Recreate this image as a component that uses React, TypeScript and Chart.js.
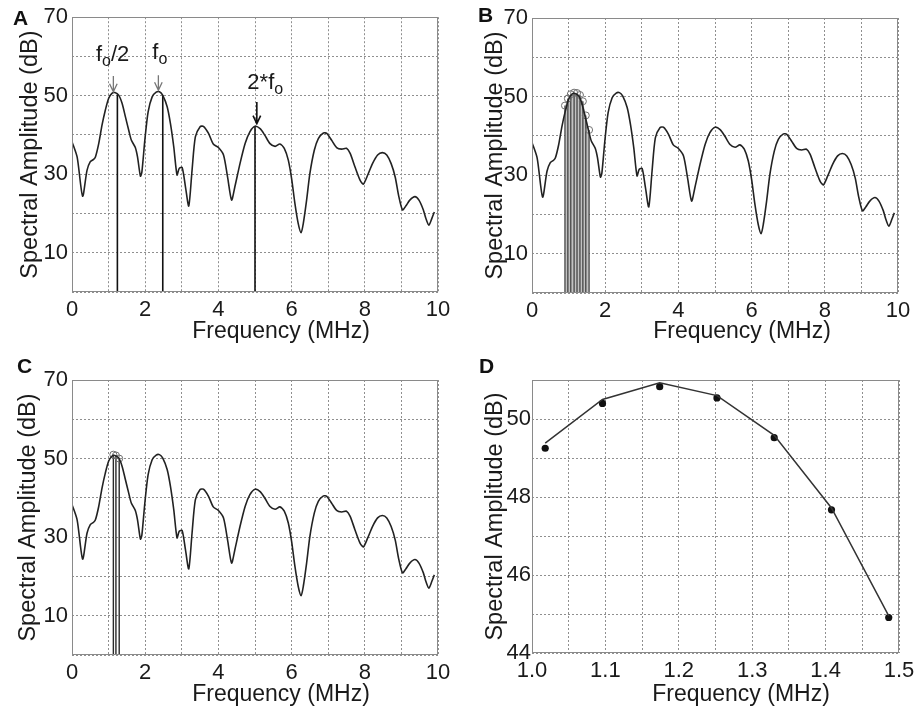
import React, { useEffect, useRef } from "react";
import { Chart, registerables } from "chart.js";
Chart.register(...registerables);

// ---------- data ----------
const specFreq = [0.0, 0.14, 0.29, 0.41, 0.5, 0.59, 0.64, 0.73, 0.82, 0.91, 1.0, 1.09, 1.17, 1.28, 1.37, 1.46, 1.55, 1.62, 1.73, 1.79, 1.87, 1.91, 1.99, 2.08, 2.19, 2.3, 2.39, 2.48, 2.6, 2.69, 2.78, 2.87, 2.93, 3.01, 3.1, 3.19, 3.28, 3.37, 3.5, 3.59, 3.73, 3.86, 4.0, 4.14, 4.25, 4.36, 4.45, 4.59, 4.73, 4.86, 5.0, 5.14, 5.27, 5.41, 5.55, 5.68, 5.8, 5.91, 6.0, 6.09, 6.18, 6.26, 6.32, 6.41, 6.5, 6.62, 6.73, 6.87, 6.96, 7.09, 7.23, 7.37, 7.5, 7.6, 7.73, 7.87, 7.96, 8.08, 8.21, 8.35, 8.48, 8.6, 8.72, 8.83, 8.93, 9.03, 9.12, 9.23, 9.37, 9.48, 9.6, 9.67, 9.75, 9.83, 9.9];
const specAmp = [38.3, 34.4, 24.4, 31.0, 33.2, 33.8, 34.4, 37.8, 42.5, 46.3, 49.3, 50.6, 50.8, 50.1, 48.0, 44.6, 41.2, 38.7, 36.8, 34.4, 29.5, 30.6, 38.7, 45.9, 49.7, 50.9, 51.0, 50.1, 47.2, 42.9, 37.0, 29.8, 31.5, 31.7, 26.8, 21.9, 31.0, 39.5, 42.1, 42.2, 40.4, 37.7, 36.8, 34.9, 29.3, 23.4, 26.8, 32.7, 37.8, 40.8, 42.2, 41.6, 39.9, 37.8, 37.1, 37.7, 36.6, 33.6, 28.9, 22.6, 17.5, 15.1, 17.5, 23.4, 30.2, 36.1, 39.1, 40.5, 40.4, 38.7, 36.8, 36.4, 36.6, 35.3, 31.9, 28.5, 27.5, 29.8, 32.7, 34.9, 35.5, 34.9, 32.7, 29.3, 24.3, 20.9, 21.9, 23.4, 24.3, 23.4, 20.9, 18.7, 17.0, 18.7, 20.4];

// Panel A stems and arrows
const aStemFreq = [1.24, 2.48, 5.0];
const aStemAmp = [50.3, 50.1, 42.2];
const arrowFreq = [1.13, 2.36, 5.05];
const arrowFrom = [55.0, 55.2, 48.4];
const arrowTo = [51.0, 51.4, 42.9];
const arrowColors = ["#777777", "#777777", "#111111"];
const labelPre = ["f", "f", "2*f"];
const labelSub = ["o", "o", "o"];
const labelPost = ["/2", "", ""];
const labelFreq = [1.11, 2.4, 5.28];
const labelAmp = [61.0, 61.5, 53.8];

// Panel B stems
const bStemFreq = [0.9, 0.98, 1.06, 1.15, 1.23, 1.31, 1.39, 1.47, 1.56];
const bStemAmp = [47.7, 49.5, 50.6, 51.0, 50.9, 50.4, 48.8, 45.2, 41.5];

// Panel C stems
const cStemFreq = [1.13, 1.2, 1.29];
const cStemAmp = [51.0, 50.8, 50.0];

// Panel D
const dFreq = [1.018, 1.096, 1.174, 1.252, 1.33, 1.408, 1.486];
const dAmp = [49.25, 50.4, 50.83, 50.54, 49.52, 47.67, 44.91];
const dLineAmp = [49.38, 50.5, 50.93, 50.6, 49.58, 47.72, 44.95];

const xTitle = "Frequency (MHz)";
const yTitle = "Spectral Amplitude (dB)";

// ---------- helpers ----------
const FONT = "'Liberation Sans', Arial, Helvetica, sans-serif";
const TXT = "#1a1a1a";
const GRID = "#8f8f8f";
const TICK_SIZE = 22;
const TITLE_SIZE = 23.5;

const pts = (xs: number[], ys: number[]) => xs.map((x, i) => ({ x, y: ys[i] }));

function stemSets(xs: number[], ys: number[], base: number, color: string, width: number) {
  return xs.map((x, i) => ({
    data: [{ x, y: base }, { x, y: ys[i] }],
    showLine: true,
    borderColor: color,
    borderWidth: width,
    pointRadius: 0,
    tension: 0,
    fill: false,
  }));
}

const curveSet = () => ({
  data: pts(specFreq, specAmp),
  showLine: true,
  borderColor: "#222222",
  borderWidth: 1.6,
  pointRadius: 0,
  tension: 0.25,
  fill: false,
});

const boxPlugin = {
  id: "box",
  afterDraw(chart: any) {
    const { ctx, chartArea: a } = chart;
    ctx.save();
    ctx.setLineDash([]);
    ctx.strokeStyle = "#8a8a8a";
    ctx.lineWidth = 1;
    ctx.strokeRect(Math.round(a.left) + 0.5, Math.round(a.top) + 0.5, Math.round(a.right - a.left) - 1, Math.round(a.bottom - a.top) - 1);
    ctx.restore();
  },
};

const arrowPlugin = {
  id: "arrows",
  afterDatasetsDraw(chart: any) {
    const { ctx, scales } = chart;
    const xs = scales.x;
    const ys = scales.y;
    ctx.save();
    arrowFreq.forEach((f, i) => {
      const px = xs.getPixelForValue(f);
      const y1 = ys.getPixelForValue(arrowFrom[i]);
      const y2 = ys.getPixelForValue(arrowTo[i]);
      ctx.strokeStyle = arrowColors[i];
      ctx.lineWidth = i === 2 ? 1.6 : 1.3;
      ctx.beginPath();
      ctx.moveTo(px, y1);
      ctx.lineTo(px, y2);
      ctx.moveTo(px - 3.8, y2 - 8);
      ctx.lineTo(px, y2);
      ctx.lineTo(px + 3.8, y2 - 8);
      ctx.stroke();

      const lx = xs.getPixelForValue(labelFreq[i]);
      const ly = ys.getPixelForValue(labelAmp[i]);
      const main = `22px ${FONT}`;
      const sub = `16px ${FONT}`;
      ctx.font = main;
      const w1 = ctx.measureText(labelPre[i]).width;
      const w3 = ctx.measureText(labelPost[i]).width;
      ctx.font = sub;
      const w2 = ctx.measureText(labelSub[i]).width;
      let sx = lx - (w1 + w2 + w3) / 2;
      const base = ly + 8;
      ctx.fillStyle = TXT;
      ctx.textBaseline = "alphabetic";
      ctx.textAlign = "left";
      ctx.font = main;
      ctx.fillText(labelPre[i], sx, base);
      sx += w1;
      ctx.font = sub;
      ctx.fillText(labelSub[i], sx, base + 5);
      sx += w2;
      ctx.font = main;
      ctx.fillText(labelPost[i], sx, base);
    });
    ctx.restore();
  },
};

type Cfg = {
  padTop: number;
  padRight: number;
  yW: number;
  xH: number;
  xMin: number;
  xMax: number;
  xStep: number;
  xLabel: (v: number) => string;
  yMin: number;
  yMax: number;
  yStep: number;
  yLabel: (v: number) => string;
  yTitlePad: number;
  yTickPad: number;
};

function makeOptions(c: Cfg) {
  return {
    responsive: false,
    maintainAspectRatio: false,
    animation: false,
    devicePixelRatio: 1,
    events: [],
    layout: { padding: { top: c.padTop, right: c.padRight, left: 0, bottom: 0 } },
    plugins: { legend: { display: false }, tooltip: { enabled: false } },
    scales: {
      x: {
        type: "linear",
        min: c.xMin,
        max: c.xMax,
        afterFit: (s: any) => {
          s.height = c.xH;
        },
        ticks: {
          stepSize: c.xStep,
          autoSkip: false,
          maxRotation: 0,
          padding: 5,
          color: TXT,
          font: { family: FONT, size: TICK_SIZE },
          callback: (v: any) => c.xLabel(Number(v)),
        },
        grid: { color: GRID, lineWidth: 1, drawTicks: false },
        border: { display: false, dash: [2, 2] },
        title: { display: false },
      },
      y: {
        type: "linear",
        min: c.yMin,
        max: c.yMax,
        afterFit: (s: any) => {
          s.width = c.yW;
        },
        ticks: {
          stepSize: c.yStep,
          autoSkip: false,
          padding: c.yTickPad,
          color: TXT,
          font: { family: FONT, size: TICK_SIZE },
          callback: (v: any) => c.yLabel(Number(v)),
        },
        grid: { color: GRID, lineWidth: 1, drawTicks: false },
        border: { display: false, dash: [2, 2] },
        title: {
          display: true,
          text: yTitle,
          color: TXT,
          font: { family: FONT, size: TITLE_SIZE },
          padding: { top: c.yTitlePad, bottom: 0 },
        },
      },
    },
  };
}

const specX = (v: number) => (Math.round(v) % 2 === 0 ? String(Math.round(v)) : "");
const specY = (v: number) => (Math.round(v) % 20 === 10 ? String(Math.round(v)) : "");

function specCfg(padTop: number, xH: number, yTitlePad: number): Cfg {
  return {
    padTop,
    padRight: 22,
    yW: 72,
    xH,
    xMin: 0,
    xMax: 10,
    xStep: 1,
    xLabel: specX,
    yMin: 0,
    yMax: 70,
    yStep: 10,
    yLabel: specY,
    yTitlePad,
    yTickPad: 4,
  };
}

function buildA() {
  return {
    type: "scatter",
    data: { datasets: [curveSet(), ...stemSets(aStemFreq, aStemAmp, 0, "#111111", 1.6)] },
    options: makeOptions(specCfg(17, 53, 16.4)),
    plugins: [boxPlugin, arrowPlugin],
  };
}

function buildB() {
  return {
    type: "scatter",
    data: {
      datasets: [
        curveSet(),
        {
          data: pts(bStemFreq, bStemAmp),
          showLine: false,
          pointRadius: 3.5,
          pointBorderWidth: 1,
          pointBorderColor: "#6f6f6f",
          pointBackgroundColor: "rgba(0,0,0,0)",
        },
        ...stemSets(bStemFreq, bStemAmp, 0, "#3a3a3a", 1.2),
        {
          data: pts(bStemFreq, bStemAmp),
          showLine: true,
          borderWidth: 0,
          borderColor: "rgba(0,0,0,0)",
          backgroundColor: "#c2c2c2",
          fill: "origin",
          pointRadius: 0,
          tension: 0,
        },
      ],
    },
    options: makeOptions(specCfg(18, 52, 21.9)),
    plugins: [boxPlugin],
  };
}

function buildC() {
  return {
    type: "scatter",
    data: {
      datasets: [
        curveSet(),
        {
          data: pts(cStemFreq, cStemAmp),
          showLine: false,
          pointRadius: 3.5,
          pointBorderWidth: 1,
          pointBorderColor: "#6f6f6f",
          pointBackgroundColor: "rgba(0,0,0,0)",
        },
        ...stemSets(cStemFreq, cStemAmp, 0, "#2a2a2a", 1.4),
      ],
    },
    options: makeOptions(specCfg(35, 54, 14.9)),
    plugins: [boxPlugin],
  };
}

function buildD() {
  const cfg: Cfg = {
    padTop: 35,
    padRight: 21,
    yW: 72,
    xH: 56,
    xMin: 1.0,
    xMax: 1.5,
    xStep: 0.05,
    xLabel: (v: number) => (Math.abs(v * 10 - Math.round(v * 10)) < 1e-6 ? v.toFixed(1) : ""),
    yMin: 44,
    yMax: 51,
    yStep: 1,
    yLabel: (v: number) => (Math.round(v) % 2 === 0 ? String(Math.round(v)) : ""),
    yTitlePad: 21.9,
    yTickPad: 1,
  };
  return {
    type: "scatter",
    data: {
      datasets: [
        {
          data: pts(dFreq, dLineAmp),
          showLine: true,
          borderColor: "#333333",
          borderWidth: 1.5,
          pointRadius: 0,
          tension: 0,
        },
        {
          data: pts(dFreq, dAmp),
          showLine: false,
          pointRadius: 3.6,
          pointBorderWidth: 0,
          pointBackgroundColor: "#111111",
        },
      ],
    },
    options: makeOptions(cfg),
    plugins: [boxPlugin],
  };
}

function Panel(props: { left: number; top: number; width: number; height: number; build: () => any }) {
  const ref = useRef<HTMLCanvasElement | null>(null);
  useEffect(() => {
    const chart = new Chart(ref.current as HTMLCanvasElement, props.build());
    return () => chart.destroy();
  }, []);
  const { left, top, width, height } = props;
  return (
    <div style={{ position: "absolute", left, top, width, height }}>
      <canvas ref={ref} width={width} height={height} style={{ display: "block", width, height }} />
    </div>
  );
}

const letterStyle = (left: number, top: number): React.CSSProperties => ({
  position: "absolute",
  left,
  top,
  fontFamily: FONT,
  fontWeight: "bold",
  fontSize: 21,
  lineHeight: "21px",
  color: "#111",
});

const xTitleStyle = (cx: number, cy: number): React.CSSProperties => ({
  position: "absolute",
  left: cx - 150,
  top: cy - 14,
  width: 300,
  height: 28,
  lineHeight: "28px",
  textAlign: "center",
  fontFamily: FONT,
  fontSize: 23,
  color: TXT,
  whiteSpace: "nowrap",
});

export default function App() {
  return (
    <div style={{ position: "absolute", left: 0, top: 0, width: 922, height: 709, background: "#fff", overflow: "hidden" }}>
      <Panel left={0} top={0} width={460} height={345} build={buildA} />
      <Panel left={460} top={0} width={460} height={345} build={buildB} />
      <Panel left={0} top={345} width={460} height={364} build={buildC} />
      <Panel left={460} top={345} width={460} height={364} build={buildD} />
      <div style={xTitleStyle(281, 330)}>{xTitle}</div>
      <div style={xTitleStyle(742, 330)}>{xTitle}</div>
      <div style={xTitleStyle(281, 693)}>{xTitle}</div>
      <div style={xTitleStyle(741, 693)}>{xTitle}</div>
      <div style={letterStyle(13, 7)}>A</div>
      <div style={letterStyle(478, 4)}>B</div>
      <div style={letterStyle(17, 355)}>C</div>
      <div style={letterStyle(479, 355)}>D</div>
    </div>
  );
}
